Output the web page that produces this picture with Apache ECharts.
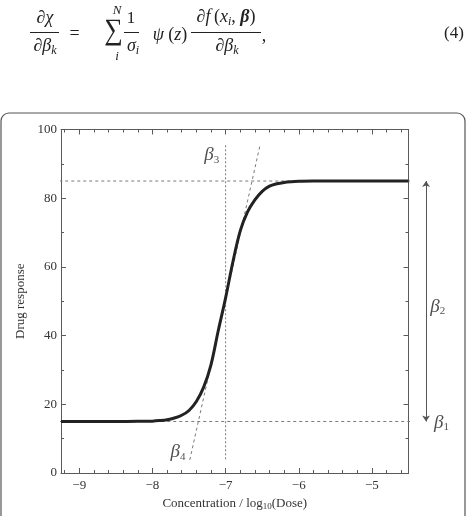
<!DOCTYPE html>
<html>
<head>
<meta charset="utf-8">
<script src="https://cdn.jsdelivr.net/npm/echarts@6/dist/echarts.min.js"></script>
<style>
  html, body { margin: 0; padding: 0; background: #fff; }
  #chart { width: 468px; height: 516px; }
</style>
</head>
<body>
<div id="chart"></div>
<script>
// dose-response curve
const doseLog = [-9.25, -9, -8.5, -8.2, -8, -7.9, -7.8, -7.7, -7.6, -7.5, -7.4, -7.3, -7.2, -7.1, -7.0, -6.9, -6.8, -6.7, -6.6, -6.5, -6.4, -6.3, -6.2, -6.1, -6.0, -5.8, -5.5, -5, -4.5]
const response = [15, 15, 15, 15.05, 15.1, 15.25, 15.5, 16, 16.8, 18.2, 20.8, 25, 31.5, 41.5, 51, 61.5, 70.5, 76, 79.5, 82, 83.5, 84.2, 84.6, 84.8, 84.9, 85, 85, 85, 85]

// guide lines
const tangentX = [-7.49, -6.53]
const tangentY = [3.8, 95.4]
const centerX = [-7, -7]
const centerY = [4, 95.4]
const guideX = [-9.52, -4.18]
const topY = [85, 85]
const bottomY = [15, 15]
const arrowX = [-4.26, -4.26]
const arrowY = [85, 15]

// parameter labels
const paramNames = ['3', '4', '2', '1']
const paramX = [-7.19, -7.65, -4.1, -4.05]
const paramY = [92.5, 6, 48.4, 14.6]

// axis ticks
const xMajor = [-9, -8, -7, -6, -5]
const xMinor = [-9.2, -8.8, -8.6, -8.4, -8.2, -7.8, -7.6, -7.4, -7.2, -6.8, -6.6, -6.4, -6.2, -5.8, -5.6, -5.4, -5.2, -4.8, -4.6]

const SERIF = '"Liberation Serif", "DejaVu Serif", serif'
const AXIS_COLOR = '#5a5a5a'
const GUIDE_COLOR = '#7a7a7a'

function pairs(xs, ys) {
  return xs.map((x, i) => [x, ys[i]])
}

function xAxisBase(position, ticks, len, showLine, showLabel) {
  return {
    type: 'value',
    position: position,
    min: -9.25,
    max: -4.5,
    splitLine: { show: false },
    axisLine: { show: showLine, onZero: false, lineStyle: { color: AXIS_COLOR, width: 1 } },
    axisTick: { show: true, inside: true, length: len, customValues: ticks, lineStyle: { color: AXIS_COLOR } },
    axisLabel: {
      show: showLabel,
      customValues: xMajor,
      margin: 6,
      color: '#333',
      fontFamily: SERIF,
      fontSize: 13,
      formatter: v => String(v).replace('-', '\u2212')
    }
  }
}

function yAxisBase(position, showLabel) {
  return {
    type: 'value',
    position: position,
    min: 0,
    max: 100,
    interval: 20,
    splitLine: { show: false },
    axisLine: { show: true, onZero: false, lineStyle: { color: AXIS_COLOR, width: 1 } },
    axisTick: { show: true, inside: true, length: 5, lineStyle: { color: AXIS_COLOR } },
    minorTick: { show: true, splitNumber: 2, length: 3, lineStyle: { color: AXIS_COLOR } },
    axisLabel: { show: showLabel, margin: 4, color: '#333', fontFamily: SERIF, fontSize: 13 }
  }
}

const bottomAxis = xAxisBase('bottom', xMajor, 5, true, true)
bottomAxis.name = 'Concentration / log{sub|10}(Dose)'
bottomAxis.nameLocation = 'middle'
bottomAxis.nameGap = 23
bottomAxis.nameTextStyle = {
  color: '#333', fontFamily: SERIF, fontSize: 13,
  rich: { sub: { fontFamily: SERIF, fontSize: 9, color: '#333', verticalAlign: 'bottom', padding: [6, 0, 0, 0] } }
}

const leftAxis = yAxisBase('left', true)
leftAxis.name = 'Drug response'
leftAxis.nameLocation = 'middle'
leftAxis.nameGap = 25
leftAxis.nameTextStyle = { color: '#333', fontFamily: SERIF, fontSize: 13 }

const eqText = (x, y, text, size, extra) => Object.assign({
  type: 'text',
  x: x,
  y: y,
  style: {
    text: text,
    fontFamily: SERIF,
    fontSize: size,
    fill: '#222',
    textAlign: 'center',
    textVerticalAlign: 'middle',
    rich: {
      i: { fontFamily: SERIF, fontStyle: 'italic', fontSize: size, fill: '#222' },
      s: { fontFamily: SERIF, fontStyle: 'italic', fontSize: 12, fill: '#222', padding: [10, 0, 0, 0] },
      b: { fontFamily: SERIF, fontStyle: 'italic', fontWeight: 'bold', fontSize: size, fill: '#222' }
    }
  }
}, extra || {})

const bar = (x1, x2, y) => ({
  type: 'line',
  shape: { x1: x1, y1: y, x2: x2, y2: y },
  style: { stroke: '#222', lineWidth: 1 }
})

const guide = (name, xs, ys, dash) => ({
  name: name,
  type: 'line',
  clip: false,
  symbol: 'none',
  data: pairs(xs, ys),
  lineStyle: { color: GUIDE_COLOR, width: 1, type: dash },
  z: 1
})

const option = {
  animation: false,
  backgroundColor: '#fff',
  grid: { left: 61, right: 59.5, top: 129.5, bottom: 40.5, containLabel: false },
  xAxis: [
    bottomAxis,
    xAxisBase('bottom', xMinor, 3, false, false),
    xAxisBase('top', xMajor, 5, true, false),
    xAxisBase('top', xMinor, 3, false, false)
  ],
  yAxis: [leftAxis, yAxisBase('right', false)],
  graphic: [
    {
      type: 'rect',
      shape: { x: 1, y: 113, width: 464, height: 430, r: 8 },
      style: { fill: 'none', stroke: '#555', lineWidth: 1.2 },
      z: -1
    },
    eqText(45, 18, '∂{i|χ}', 18),
    bar(30, 59, 32.5),
    eqText(45, 46, '∂{i|β}{s|k}', 18),
    eqText(74.5, 34, '=', 18),
    eqText(113.5, 31, '∑', 26, { scaleY: 1.15 }),
    eqText(117, 11, '{i|N}', 13),
    eqText(117, 57, '{i|i}', 13),
    eqText(131, 19, '1', 17),
    bar(124, 139, 32.5),
    eqText(133, 46, '{i|σ}{s|i}', 18),
    eqText(170, 35, '{i|ψ} ({i|z})', 18),
    eqText(226, 17, '∂{i|f}\u2009({i|x}{s|i}, {b|β})', 18),
    bar(191, 261, 32.5),
    eqText(227, 46, '∂{i|β}{s|k}', 18),
    eqText(264, 36, ',', 18),
    eqText(454, 34, '(4)', 17)
  ],
  series: [
    guide('top asymptote', guideX, topY, [3, 3]),
    guide('bottom asymptote', guideX, bottomY, [3, 3]),
    guide('ec50', centerX, centerY, [2, 2]),
    guide('slope', tangentX, tangentY, [3, 3]),
    {
      name: 'range',
      type: 'lines',
      coordinateSystem: 'cartesian2d',
      clip: false,
      symbol: ['arrow', 'arrow'],
      symbolSize: 6,
      data: [{ coords: pairs(arrowX, arrowY) }],
      lineStyle: { color: '#555', width: 1, opacity: 1 },
      z: 2
    },
    {
      name: 'response',
      type: 'line',
      smooth: 0.35,
      symbol: 'none',
      data: pairs(doseLog, response),
      lineStyle: { color: '#222', width: 3 },
      z: 3
    },
    {
      name: 'params',
      type: 'scatter',
      clip: false,
      symbolSize: 0,
      data: pairs(paramX, paramY),
      label: {
        show: true,
        position: 'inside',
        formatter: p => '{b|β}{s|' + paramNames[p.dataIndex] + '}',
        rich: {
          b: { fontFamily: SERIF, fontStyle: 'italic', fontSize: 19, color: '#222' },
          s: { fontFamily: SERIF, fontSize: 11, color: '#222', padding: [9, 0, 0, 0] }
        }
      },
      z: 4
    }
  ]
}

const chart = echarts.init(document.getElementById('chart'))
chart.setOption(option)
</script>
</body>
</html>
